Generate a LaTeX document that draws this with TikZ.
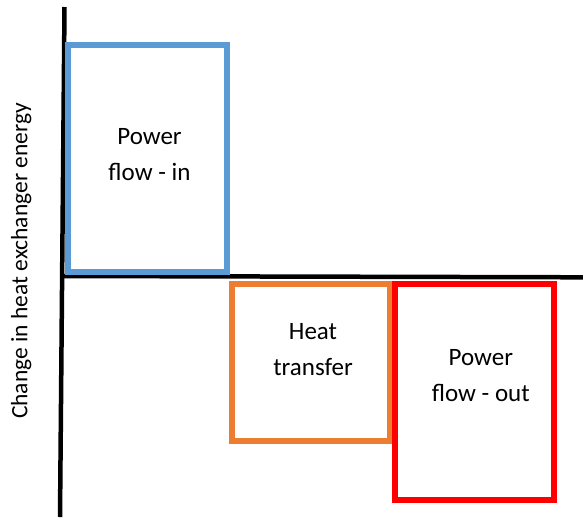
\documentclass[tikz,border=0pt]{standalone}
\usepackage{fontspec}
\setmainfont{Carlito}
\definecolor{inblue}{HTML}{5B9BD5}
\definecolor{heatorange}{HTML}{ED7D31}
\definecolor{outred}{HTML}{FF0000}
\begin{document}
\begin{tikzpicture}[x=1pt,y=-1pt,
  axisline/.style={line width=4.5pt,black},
  flowbox/.style={draw,line width=6pt,rectangle,inner sep=0pt,minimum width=158.3pt},
  boxtext/.style={align=center,inner sep=0pt,font=\fontsize{25}{36}\selectfont},
  axislabel/.style={rotate=90,anchor=base,inner sep=0pt,font=\fontsize{23.5}{28}\selectfont}]
  \useasboundingbox (0,0) rectangle (583,517);
  % axes
  \coordinate (ytop) at (64.5,7);
  \coordinate (ybot) at (60,517);
  \coordinate (xleft) at (62,276);
  \coordinate (xright) at (583,277.3);
  \draw[axisline] (ytop) -- (ybot);
  \draw[axisline] (xleft) -- (xright);
  % energy blocks
  \node[flowbox,draw=inblue,minimum height=226.8pt] (powin) at (147.6,158.1) {};
  \node[flowbox,draw=heatorange,minimum height=156.7pt] (heat) at (311.3,362.2) {};
  \node[flowbox,draw=outred,minimum height=215.9pt] (powout) at (474.5,391.8) {};
  % block captions
  \node[boxtext] (powintext) at (149.5,154.1) {Power\\flow - in};
  \node[boxtext] (heattext) at (313,349.1) {Heat\\transfer};
  \node[boxtext] (powouttext) at (480.8,375.1) {Power\\flow - out};
  % vertical axis label
  \node[axislabel] (ylabel) at (27.3,261) {Change in heat exchanger energy};
\end{tikzpicture}
\end{document}
